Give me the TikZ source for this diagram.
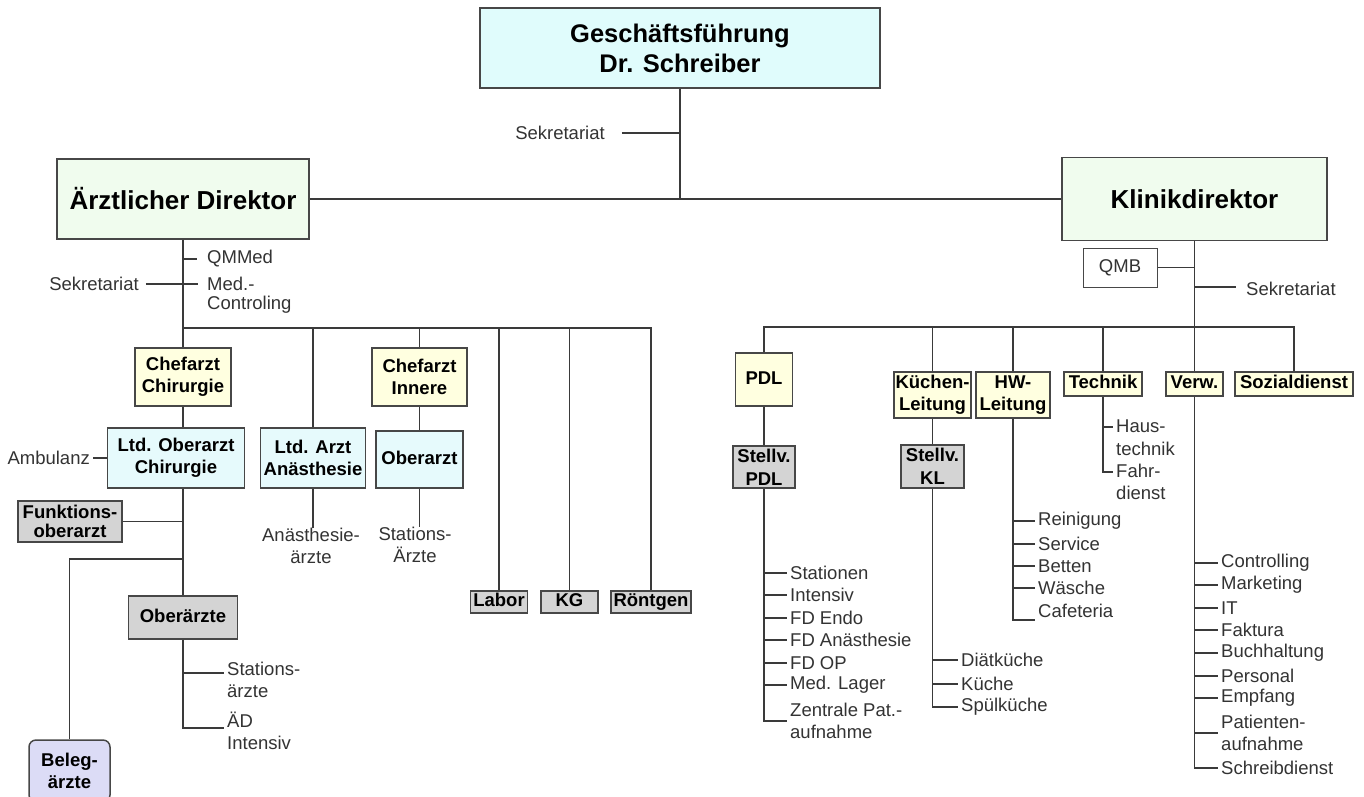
\documentclass[tikz,border=0pt]{standalone}
\usepackage{fontspec}
\setmainfont{Liberation Sans}
\definecolor{linec}{HTML}{3A3A3A}
\definecolor{bordc}{HTML}{474747}
\definecolor{txtc}{HTML}{333333}
\definecolor{cyanA}{HTML}{E0FCFC}
\definecolor{greenA}{HTML}{F0FCEE}
\definecolor{yellA}{HTML}{FFFFE0}
\definecolor{cyanB}{HTML}{E6FAFC}
\definecolor{grayA}{HTML}{D4D4D4}
\definecolor{lavA}{HTML}{DCDCF6}
\newcommand\lblf{\fontsize{18.5}{22.5}\selectfont}
\newcommand\boxf{\fontsize{18.5}{22}\selectfont\bfseries}
\newcommand\bigf{\fontsize{26}{30}\selectfont\bfseries}
\begin{document}
\begin{tikzpicture}[x=1pt,y=-1pt,
  conn/.style={draw=linec,line width=1.5pt},
  box/.style={draw=bordc,line width=1.5pt,inner sep=0pt,align=center,font=\boxf,text=black},
  onebox/.style={box,text height=13.5pt,text depth=4pt},
  bigbox/.style={box,font=\bigf},
  lbl/.style={inner xsep=3pt,inner ysep=0pt,align=left,font=\lblf,text=txtc},
  clbl/.style={lbl,align=center}]
\useasboundingbox (0,0) rectangle (1364,796);
\clip (0,0) rectangle (1364,796);
\fill[white] (0,0) rectangle (1364,796);

% ---------- top level ----------
\node[bigbox,fill=cyanA,minimum width=400pt,minimum height=80pt,font={\fontsize{25.5}{30}\selectfont\bfseries}] (gf) at (680,48) {Geschäftsführung\\Dr. Schreiber};
\node[bigbox,fill=greenA,minimum width=252pt,minimum height=80pt] (ad) at (183,199) {Ärztlicher Direktor};
\node[bigbox,fill=greenA,minimum width=265pt,minimum height=83pt] (kd) at (1194.5,199) {Klinikdirektor};
\node[lbl] (sek0) at (560,133) {Sekretariat};
\draw[conn] (gf.south) -- (gf.south |- ad.east);
\draw[conn] (ad.east) -- (kd.west);
\draw[conn] ([xshift=14pt]sek0.east) -- (sek0.east -| gf.south);

% ---------- Ärztlicher Direktor ----------
\node[lbl,anchor=west] (qm) at (204,259) {QMMed};
\node[lbl,anchor=west] (med) at (204,284) {Med.-};
\node[lbl,anchor=west] (ctl) at (204,305) {Controling};
\node[lbl] (sek1) at (94,284) {Sekretariat};
\draw[conn] (ad.south |- qm.west) -- ([xshift=-7pt]qm.west);
\draw[conn] ([xshift=4pt]sek1.east) -- ([xshift=-6pt]med.west);

\node[box,fill=yellA,minimum width=96pt,minimum height=58pt] (cc) at (183,377) {Chefarzt\\Chirurgie};
\node[box,fill=cyanB,minimum width=137pt,minimum height=60pt] (lo) at (176,458) {Ltd. Oberarzt\\Chirurgie};
\node[box,fill=cyanB,minimum width=105pt,minimum height=60pt] (la) at (313,458) {Ltd. Arzt\\Anästhesie};
\node[box,fill=yellA,minimum width=95pt,minimum height=58pt] (ci) at (419.5,377) {Chefarzt\\Innere};
\node[onebox,fill=cyanB,minimum width=87pt,minimum height=57pt] (oa) at (419.5,459.5) {Oberarzt};
\node[onebox,fill=grayA,minimum width=57pt,minimum height=22pt] (lab) at (499,602) {Labor};
\node[onebox,fill=grayA,minimum width=57pt,minimum height=22pt] (kg) at (569.5,602) {KG};
\node[onebox,fill=grayA,minimum width=80pt,minimum height=22pt] (rg) at (651,602) {Röntgen};

\draw[conn] (ad.south) -- (cc.north);
\coordinate (lb) at (183,328);
\draw[conn] (lb) -- (lb -| rg.north) -- (rg.north);
\draw[conn] (lb -| la.north) -- (la.north);
\draw[conn] (lb -| ci.north) -- (ci.north);
\draw[conn] (lb -| lab.north) -- (lab.north);
\draw[conn] (lb -| kg.north) -- (kg.north);

\node[clbl] (an) at (311,546) {Anästhesie-\\ärzte};
\node[clbl] (st2) at (415,545) {Stations-\\Ärzte};
\draw[conn] (la.south) -- (la.south |- an.north);
\draw[conn] (ci.south) -- (oa.north);
\draw[conn] (oa.south) -- (oa.south |- st2.north);

\node[lbl,anchor=east] (amb) at (93,458) {Ambulanz};
\draw[conn] (amb.east) -- (lo.west);
\draw[conn] (cc.south) -- (cc.south |- lo.north);

\node[box,fill=grayA,minimum width=104pt,minimum height=41pt,font={\fontsize{18.5}{19}\selectfont\bfseries}] (fo) at (70,521.5) {Funktions-\\oberarzt};
\node[onebox,fill=grayA,minimum width=109pt,minimum height=43pt] (ob) at (183,617.5) {Oberärzte};
\node[box,fill=lavA,rounded corners=7pt,minimum width=81pt,minimum height=62pt] (bel) at (69.5,771) {Beleg-\\ärzte};
\draw[conn] (cc.south |- lo.south) -- (ob.north);
\draw[conn] (fo.east) -- (fo.east -| ob.north);
\coordinate (j1) at (183,559);
\draw[conn] (j1) -- (j1 -| bel.north) -- (bel.north);

\node[lbl,anchor=west] (sa2) at (224,680) {Stations-\\ärzte};
\node[lbl,anchor=west] (aed) at (224,731) {ÄD\\Intensiv};
\coordinate (j2) at (183,673);
\coordinate (j3) at (183,728);
\draw[conn] (ob.south) -- (j3) -- (j3 -| aed.west);
\draw[conn] (j2) -- (j2 -| sa2.west);

% ---------- Klinikdirektor ----------
\node[draw=bordc,line width=1pt,fill=white,inner sep=0pt,font=\lblf,text=txtc,minimum width=74pt,minimum height=39pt] (qmb) at (1120,267.5) {QMB};
\draw[conn] (qmb.east) -- (qmb.east -| kd.south);
\node[lbl,anchor=west,inner xsep=10pt] (sek2) at (1236,289) {Sekretariat};
\coordinate (j4) at (1194.5,287);
\draw[conn] (j4) -- (j4 -| sek2.west);

\node[onebox,fill=yellA,minimum width=57pt,minimum height=53pt] (pdl) at (764,379.5) {PDL};
\node[box,fill=grayA,minimum width=62pt,minimum height=42pt,font={\fontsize{18.5}{23}\selectfont\bfseries}] (sp) at (764,467) {Stellv.\\PDL};
\node[box,fill=yellA,minimum width=77pt,minimum height=46pt] (kl) at (932.5,395) {Küchen-\\Leitung};
\node[box,fill=grayA,minimum width=63pt,minimum height=43pt,font={\fontsize{18.5}{23}\selectfont\bfseries}] (skl) at (932.5,466.5) {Stellv.\\KL};
\node[box,fill=yellA,minimum width=74pt,minimum height=46pt] (hw) at (1013,395) {HW-\\Leitung};
\node[onebox,fill=yellA,minimum width=78pt,minimum height=24pt] (te) at (1103,384) {Technik};
\node[onebox,fill=yellA,minimum width=57pt,minimum height=24pt] (vw) at (1194.5,384) {Verw.};
\node[onebox,fill=yellA,minimum width=118pt,minimum height=24pt] (sd) at (1294,384) {Sozialdienst};

\draw[conn] (kd.south) -- (vw.north);
\coordinate (rb) at (764,327);
\draw[conn] (pdl.north) -- (pdl.north |- rb) -- (rb -| sd.north) -- (sd.north);
\draw[conn] (rb -| kl.north) -- (kl.north);
\draw[conn] (rb -| hw.north) -- (hw.north);
\draw[conn] (rb -| te.north) -- (te.north);
\draw[conn] (pdl.south) -- (sp.north);
\draw[conn] (kl.south) -- (skl.north);

% PDL list
\foreach \n/\yy/\tx in {p1/573/Stationen, p2/595/Intensiv, p3/618/FD Endo, p4/640/FD Anästhesie, p5/663/FD OP, p6/685/Med. Lager}{
  \node[lbl,anchor=west] (\n) at (787,\yy) {\tx};
  \draw[conn] (sp.south |- \n.west) -- (\n.west);
}
\node[lbl,anchor=west] (p7) at (787,721) {Zentrale Pat.-\\aufnahme};
\draw[conn] (sp.south) -- (sp.south |- p7.west) -- (p7.west);

% Küchen list
\foreach \n/\yy/\tx in {k1/660/Diätküche, k2/684/Küche}{
  \node[lbl,anchor=west] (\n) at (958,\yy) {\tx};
  \draw[conn] (skl.south |- \n.west) -- (\n.west);
}
\node[lbl,anchor=west] (k3) at (958,707) {Spülküche};
\draw[conn] (skl.south) -- (skl.south |- k3.west) -- (k3.west);

% HW list
\foreach \n/\yy/\tx in {h1/521/Reinigung, h2/544/Service, h3/566/Betten, h4/588/Wäsche}{
  \node[lbl,anchor=west] (\n) at (1035,\yy) {\tx};
  \draw[conn] (hw.south |- \n.west) -- (\n.west);
}
\node[lbl,anchor=west] (h5) at (1035,611) {Cafeteria};
\coordinate (h5t) at ([yshift=-9pt]h5.west);
\draw[conn] (hw.south) -- (hw.south |- h5t) -- (h5t);

% Technik list
\node[lbl,anchor=west] (hs) at (1113,437.5) {Haus-\\technik};
\node[lbl,anchor=west] (fd) at (1113,482) {Fahr-\\dienst};
\coordinate (hst) at ([yshift=10.5pt]hs.west);
\coordinate (fdt) at ([yshift=10pt]fd.west);
\draw[conn] (te.south) -- (te.south |- fdt) -- (fdt);
\draw[conn] (te.south |- hst) -- (hst);

% Verwaltung list
\foreach \n/\yy/\tx in {v1/563/Controlling, v2/585/Marketing, v3/608/IT, v4/630/Faktura, v5/653/Buchhaltung, v6/676/Personal, v7/698/Empfang}{
  \node[lbl,anchor=west] (\n) at (1218,\yy) {\tx};
  \draw[conn] (vw.south |- \n.west) -- (\n.west);
}
\node[lbl,anchor=west] (v8) at (1218,733) {Patienten-\\aufnahme};
\draw[conn] (vw.south |- v8.west) -- (v8.west);
\node[lbl,anchor=west] (v9) at (1218,768) {Schreibdienst};
\draw[conn] (vw.south) -- (vw.south |- v9.west) -- (v9.west);
\end{tikzpicture}
\end{document}
